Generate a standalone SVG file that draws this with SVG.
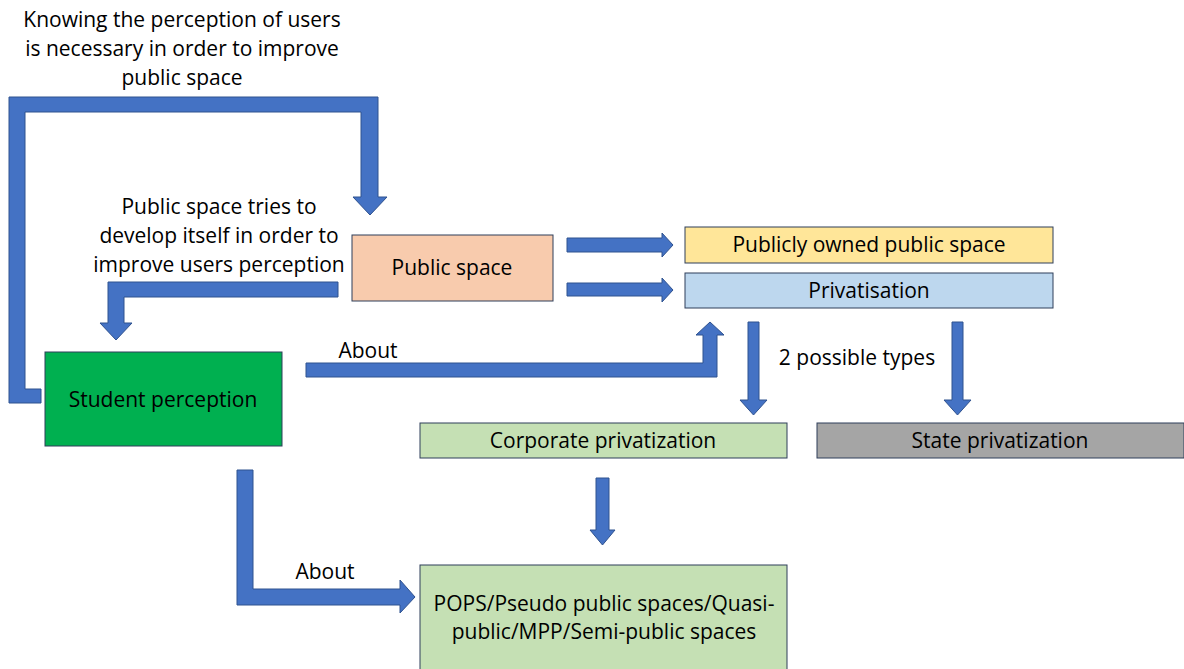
<svg xmlns="http://www.w3.org/2000/svg" width="1184" height="669" viewBox="0 0 1184 669">
<style>
.arr{fill:#4472c4;stroke:#2f528f;stroke-width:1}
.box{stroke:#2f3f5a;stroke-width:1}
text{font-family:"Open Sans","Liberation Sans",Arial,sans-serif;font-size:21px;fill:#000;text-anchor:middle;dominant-baseline:central}
</style>
<rect width="1184" height="669" fill="#fff"/>
<g id="connectors">
<polygon class="arr" points="9,97 378,97 378,197 387,197 370,215 353,197 361,197 361,112 25,112 25,389 41,389 41,403 9,403"/>
<polygon class="arr" points="338,282 338,297 124,297 124,323 132,323 116,340 100,323 108,323 108,282"/>
<polygon class="arr" points="306,363 703,363 703,335 696,335 710,322 724,335 717,335 717,377 306,377"/>
<polygon class="arr" points="567,238 662,238 662,233 673,245 662,257 662,252 567,252"/>
<polygon class="arr" points="567,283 662,283 662,278 673,290 662,302 662,296 567,296"/>
<polygon class="arr" points="748,322 759,322 759,400 767,400 753.5,415 740,400 748,400"/>
<polygon class="arr" points="952,322 963,322 963,400 971,400 957.5,415 944,400 952,400"/>
<polygon class="arr" points="596,478 609,478 609,530 615,530 602.5,545 590,530 596,530"/>
<polygon class="arr" points="237,470 253,470 253,589 400,589 400,580 415,597 400,613 400,605 237,605"/>
<text x="182" y="19">Knowing the perception of users</text>
<text x="182" y="48">is necessary in order to improve</text>
<text x="182" y="77">public space</text>
<text x="219" y="206">Public space tries to</text>
<text x="219" y="235">develop itself in order to</text>
<text x="219" y="264">improve users perception</text>
<text x="368" y="350">About</text>
<text x="857" y="357">2 possible types</text>
<text x="325" y="571">About</text>
</g>
<g id="public-space"><rect class="box" x="352" y="235" width="201" height="66" fill="#f8cbad"/><text x="452" y="267">Public space</text></g>
<g id="publicly-owned"><rect class="box" x="685" y="227" width="368" height="36" fill="#ffe699"/><text x="869" y="244">Publicly owned public space</text></g>
<g id="privatisation"><rect class="box" x="685" y="273" width="368" height="35" fill="#bdd7ee"/><text x="869" y="290">Privatisation</text></g>
<g id="student-perception"><rect class="box" x="45" y="352" width="237" height="94" fill="#00b050"/><text x="163" y="399">Student perception</text></g>
<g id="corporate"><rect class="box" x="420" y="423" width="367" height="35" fill="#c5e0b4"/><text x="603" y="440">Corporate privatization</text></g>
<g id="state"><rect class="box" x="817" y="423" width="367" height="35" fill="#a5a5a5"/><text x="1000" y="440">State privatization</text></g>
<g id="pops"><rect class="box" x="420" y="565" width="367" height="110" fill="#c5e0b4"/><text x="604" y="603">POPS/Pseudo public spaces/Quasi-</text><text x="604" y="631">public/MPP/Semi-public spaces</text></g>
</svg>
